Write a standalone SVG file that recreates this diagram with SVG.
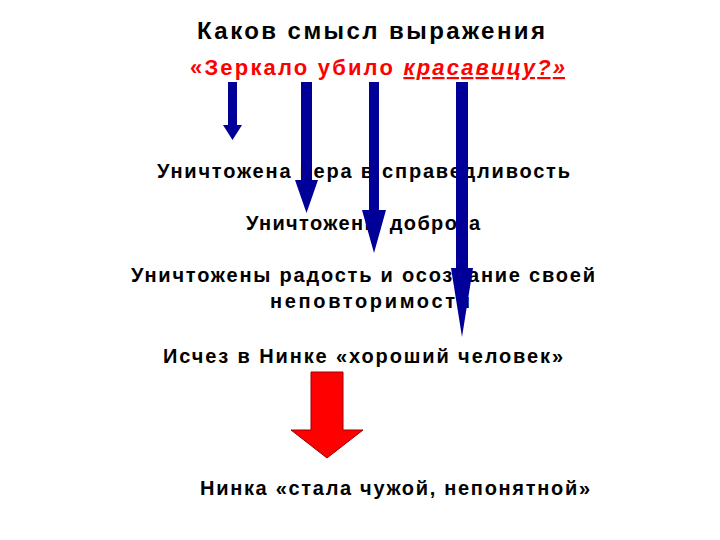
<svg xmlns="http://www.w3.org/2000/svg" width="720" height="540" viewBox="0 0 720 540">
<style>
text{font-family:"Liberation Sans",Arial,sans-serif;font-weight:bold}
.t{font-size:20px;fill:#000}
.b{fill:#000099}
</style>
<rect width="720" height="540" fill="#fff"/>
<g id="title">
<text x="197" y="39" font-size="24" textLength="348" lengthAdjust="spacing">Каков смысл выражения</text>
<text x="190" y="75" font-size="22" fill="#ff0000" textLength="375" lengthAdjust="spacing">«Зеркало убило <tspan font-style="italic" text-decoration="underline">красавицу?»</tspan></text>
</g>
<g id="n1"><text class="t" x="157" y="178" textLength="413" lengthAdjust="spacing">Уничтожена вера в справедливость</text></g>
<g id="n2"><text class="t" x="246" y="230" textLength="234" lengthAdjust="spacing">Уничтожены доброта</text></g>
<g id="n3"><text class="t" x="131" y="282" textLength="464" lengthAdjust="spacing">Уничтожены радость и осознание своей</text><text class="t" x="270" y="308" textLength="200" lengthAdjust="spacing">неповторимости</text></g>
<g id="n4"><text class="t" x="163" y="363" textLength="400" lengthAdjust="spacing">Исчез в Нинке «хороший человек»</text></g>
<g id="n5"><text class="t" x="200" y="495" fill="#ff0000" textLength="390" lengthAdjust="spacing">Нинка «стала чужой, непонятной»</text></g>
<g id="connectors">
<path class="b" d="M228,82H237V125H242L232.5,140L223,125H228Z"/>
<path class="b" d="M301,82H312V180H318L306.5,213L295,180H301Z"/>
<path class="b" d="M369,82H379V210H386L374,253L362,210H369Z"/>
<path class="b" d="M456,82H468V268H473L462,337L451,268H456Z"/>
<path d="M311,372H343V430H363L327,458L291,430H311Z" fill="#ff0000" stroke="#990000" stroke-width="1"/>
</g>
</svg>
